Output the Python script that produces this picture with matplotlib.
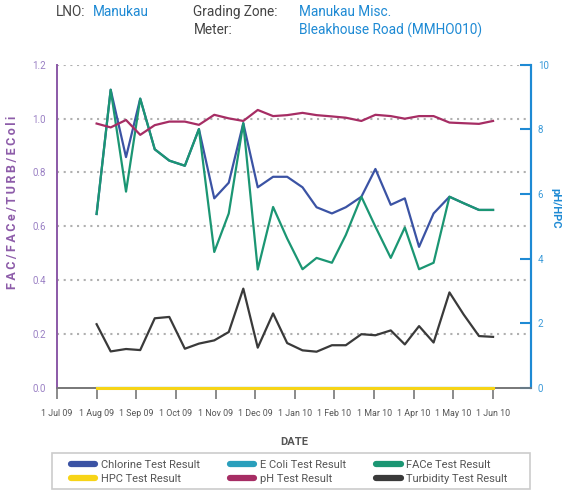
import matplotlib
matplotlib.use('Agg')
import matplotlib.pyplot as plt
import matplotlib.patches as mpatches
import pandas as pd

plt.rcParams['font.family'] = ['Roboto', 'DejaVu Sans']

# Данные
dates = pd.to_datetime([
    '2009-08-01', '2009-08-12', '2009-08-24', '2009-09-04', '2009-09-15', '2009-09-26',
    '2009-10-08', '2009-10-19', '2009-10-31', '2009-11-11', '2009-11-22', '2009-12-03',
    '2009-12-15', '2009-12-26', '2010-01-07', '2010-01-18', '2010-01-30', '2010-02-09',
    '2010-02-20', '2010-03-02', '2010-03-14', '2010-03-25', '2010-04-05', '2010-04-16',
    '2010-04-28', '2010-05-09', '2010-05-21', '2010-06-01'])

chlorine = [0.646, 1.107, 0.857, 1.074, 0.886, 0.844, 0.825, 0.961, 0.704, 0.762,
            0.983, 0.745, 0.784, 0.784, 0.745, 0.671, 0.648, 0.671, 0.710, 0.813,
            0.680, 0.704, 0.524, 0.648, 0.710, 0.686, 0.661, 0.661]
face = [0.646, 1.107, 0.729, 1.074, 0.886, 0.844, 0.825, 0.961, 0.505, 0.648,
        0.983, 0.440, 0.672, 0.555, 0.441, 0.483, 0.465, 0.568, 0.710, 0.599,
        0.483, 0.596, 0.441, 0.465, 0.710, 0.686, 0.661, 0.661]
turbidity = [0.237, 0.136, 0.145, 0.141, 0.259, 0.264, 0.146, 0.165, 0.177, 0.208,
             0.369, 0.150, 0.277, 0.167, 0.140, 0.135, 0.159, 0.159, 0.200, 0.196,
             0.214, 0.162, 0.230, 0.169, 0.355, 0.273, 0.193, 0.190]
ecoli = [0.0] * 28
ph = [8.18, 8.06, 8.29, 7.83, 8.13, 8.24, 8.24, 8.14, 8.45, 8.34,
      8.26, 8.60, 8.41, 8.44, 8.51, 8.44, 8.40, 8.36, 8.26, 8.45,
      8.41, 8.33, 8.41, 8.41, 8.21, 8.19, 8.17, 8.26]
hpc = [0.0] * 28

month_labels = ['1 Jul 09', '1 Aug 09', '1 Sep 09', '1 Oct 09', '1 Nov 09', '1 Dec 09',
                '1 Jan 10', '1 Feb 10', '1 Mar 10', '1 Apr 10', '1 May 10', '1 Jun 10']

# позиция по месяцам (1 Jul 09 = 0), каждый месяц одинаковой ширины
x = (dates.year - 2009) * 12 + dates.month - 7 + (dates.day - 1) / dates.days_in_month

c_chl = '#3b53a4'
c_eco = '#2a9fbc'
c_face = '#1b9673'
c_hpc = '#f7d417'
c_ph = '#a62d64'
c_turb = '#3a3a3a'
purple = '#8d5ca9'
blue = '#1e8ad4'
gray = '#555555'

fig = plt.figure(figsize=(5.64, 4.9), dpi=100, facecolor='white')
ax = fig.add_axes([0.101, 0.208, 0.840, 0.660])
ax2 = ax.twinx()

lw = 1.6
l1, = ax.plot(x, chlorine, color=c_chl, lw=lw, label='Chlorine Test Result')
l2, = ax.plot(x, ecoli, color=c_eco, lw=lw, label='E Coli Test Result', clip_on=False)
l3, = ax.plot(x, face, color=c_face, lw=lw, label='FACe Test Result')
l6, = ax.plot(x, turbidity, color=c_turb, lw=lw, label='Turbidity Test Result')
l4, = ax2.plot(x, hpc, color=c_hpc, lw=2.2, label='HPC Test Result', clip_on=False, zorder=5)
l5, = ax2.plot(x, ph, color=c_ph, lw=lw, label='pH Test Result')

ax.set_xlim(0, 11.95)
ax.set_ylim(0, 1.2)
ax2.set_ylim(0, 10)

ax.set_xticks(range(len(month_labels)))
ax.set_xticklabels(month_labels)
ax.set_yticks([0, 0.2, 0.4, 0.6, 0.8, 1.0, 1.2])
ax.set_yticklabels(['0.0', '0.2', '0.4', '0.6', '0.8', '1.0', '1.2'])
ax2.set_yticks([0, 2, 4, 6, 8, 10])

for y in [0.2, 0.4, 0.6, 0.8, 1.0, 1.2]:
    ax.axhline(y, color='#b0b0b0', lw=1.5, ls=(0, (1, 2.2)), zorder=0)

ax.tick_params(axis='x', direction='out', length=8, width=1.2, color='#777777',
               labelsize=6.4, labelcolor=gray, pad=7)
ax.tick_params(axis='y', length=0, labelsize=7, labelcolor='#9a80c4', pad=8)
ax2.tick_params(axis='y', direction='in', length=8, width=1.5, color=blue,
                labelsize=7, labelcolor='#3a9ad9', pad=5)

for a in (ax, ax2):
    a.spines['top'].set_visible(False)
    a.spines['bottom'].set_color('#777777')
    a.spines['bottom'].set_linewidth(1.2)
    a.spines['left'].set_color(purple)
    a.spines['left'].set_linewidth(1.3)
    a.spines['right'].set_color(blue)
    a.spines['right'].set_linewidth(1.5)
ax.patch.set_visible(False)

ax.set_xlabel('DATE', fontsize=8, fontweight='bold', color=gray, labelpad=14)

# подписи осей с разрядкой
spaced = '\u2009'.join('FAC/FACe/TURB/EColi')
fig.text(0.023, 0.588, spaced, rotation=90, ha='center', va='center',
         fontsize=9, fontweight='bold', color=purple)
fig.text(0.984, 0.5755, 'pH/HPC', rotation=270, ha='center', va='center',
         fontsize=8, fontweight='bold', color=blue)

# Шапка
hdr = 9.8
fig.text(0.0993, 0.976, 'LNO:', fontsize=hdr, color='#444444', va='center')
fig.text(0.165, 0.976, 'Manukau', fontsize=hdr, color=blue, va='center')
fig.text(0.343, 0.976, 'Grading Zone:', fontsize=hdr, color='#444444', va='center')
fig.text(0.530, 0.976, 'Manukau Misc.', fontsize=hdr, color=blue, va='center')
fig.text(0.343, 0.939, 'Meter:', fontsize=hdr, color='#444444', va='center')
fig.text(0.530, 0.939, 'Bleakhouse Road (MMHO010)', fontsize=hdr, color=blue, va='center')

# рамка легенды
fig.add_artist(mpatches.Rectangle((52 / 564, 1 - 489 / 490), 478 / 564, 36 / 490,
                                  transform=fig.transFigure, fill=False,
                                  edgecolor='#cccccc', lw=1.2))

# легенда по строкам: порядок для заполнения по столбцам
handles = [l1, l4, l2, l5, l3, l6]
leg = fig.legend(handles, [h.get_label() for h in handles], ncol=3,
                 loc='center left', bbox_to_anchor=(71 / 564, 1 - 472 / 490),
                 fontsize=8, handlelength=2.2, handletextpad=0.5,
                 labelspacing=0.4, columnspacing=2.7, borderpad=0, borderaxespad=0,
                 frameon=False)
for t in leg.get_texts():
    t.set_color(gray)
for h in leg.legend_handles:
    h.set_linewidth(4.5)
    h.set_solid_capstyle('round')

fig.savefig('out.png', dpi=100, facecolor='white')
